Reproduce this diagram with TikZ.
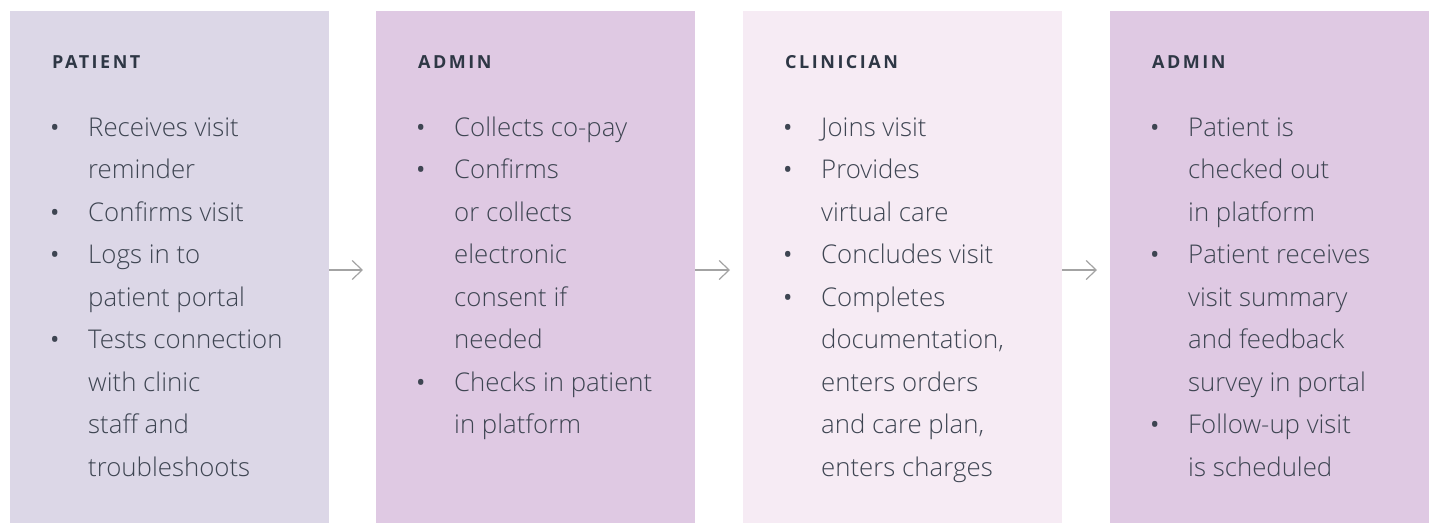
\documentclass[tikz,border=0pt]{standalone}
\usepackage{fontspec}
\setmainfont{Open Sans Light}[BoldFont={Open Sans Bold}]
\newfontfamily\titlefont{Open Sans}[LetterSpace=14]
\newfontfamily\bulfont{Open Sans}
\usetikzlibrary{arrows.meta}
\definecolor{boxA}{HTML}{DCD7E7}
\definecolor{boxB}{HTML}{DFC9E3}
\definecolor{boxC}{HTML}{F6EBF4}
\definecolor{txt}{HTML}{3E4552}
\definecolor{ttl}{HTML}{2E3745}
\definecolor{arr}{HTML}{A3A3A3}
\newcommand\bul{{\bulfont\fontsize{25}{25}\selectfont\textbullet}}
\tikzset{
  panel/.style={draw=none, inner sep=0pt, minimum width=319pt, minimum height=512pt, anchor=north west},
  heading/.style={inner sep=0pt, anchor=base west, text=ttl, font=\titlefont\bfseries\fontsize{18}{20}\selectfont},
  items/.style={inner sep=0pt, anchor=base west, text=txt, font=\fontsize{25.8}{42.5}\selectfont},
  flow/.style={draw=arr, line width=1.2pt, -{Straight Barb[length=10pt,width=19pt]}}
}
\begin{document}
\begin{tikzpicture}[x=1pt,y=-1pt]
\useasboundingbox (0,0) rectangle (1432,523);
\node[panel, fill=boxA] (b1) at (10,11) {};
\node[panel, fill=boxB] (b2) at (376,11) {};
\node[panel, fill=boxC] (b3) at (743,11) {};
\node[panel, fill=boxB] (b4) at (1110,11) {};

\node[heading] (h1) at (52,68) {PATIENT};
\node[heading] (h2) at (418,68) {ADMIN};
\node[heading] (h3) at (785,68) {CLINICIAN};
\node[heading] (h4) at (1152,68) {ADMIN};

\node[items] (l1) at (50,136) {\begin{tabular}[t]{@{}p{38pt}@{}l@{}}
\bul & Receives visit\\
 & reminder\\
\bul & Confirms visit\\
\bul & Logs in to\\
 & patient portal\\
\bul & Tests connection\\
 & with clinic\\
 & staff and\\
 & troubleshoots
\end{tabular}};

\node[items] (l2) at (416,136) {\begin{tabular}[t]{@{}p{38pt}@{}l@{}}
\bul & Collects co-pay\\
\bul & Confirms\\
 & or collects\\
 & electronic\\
 & consent if\\
 & needed\\
\bul & Checks in patient\\
 & in platform
\end{tabular}};

\node[items] (l3) at (783,136) {\begin{tabular}[t]{@{}p{38pt}@{}l@{}}
\bul & Joins visit\\
\bul & Provides\\
 & virtual care\\
\bul & Concludes visit\\
\bul & Completes\\
 & documentation,\\
 & enters orders\\
 & and care plan,\\
 & enters charges
\end{tabular}};

\node[items] (l4) at (1150,136) {\begin{tabular}[t]{@{}p{38pt}@{}l@{}}
\bul & Patient is\\
 & checked out\\
 & in platform\\
\bul & Patient receives\\
 & visit summary\\
 & and feedback\\
 & survey in portal\\
\bul & Follow-up visit\\
 & is scheduled
\end{tabular}};

\coordinate (a1) at (363,270);
\coordinate (a2) at (730,270);
\coordinate (a3) at (1097,270);
\draw[flow] (b1.east |- a1) -- (a1);
\draw[flow] (b2.east |- a2) -- (a2);
\draw[flow] (b3.east |- a3) -- (a3);
\end{tikzpicture}
\end{document}
